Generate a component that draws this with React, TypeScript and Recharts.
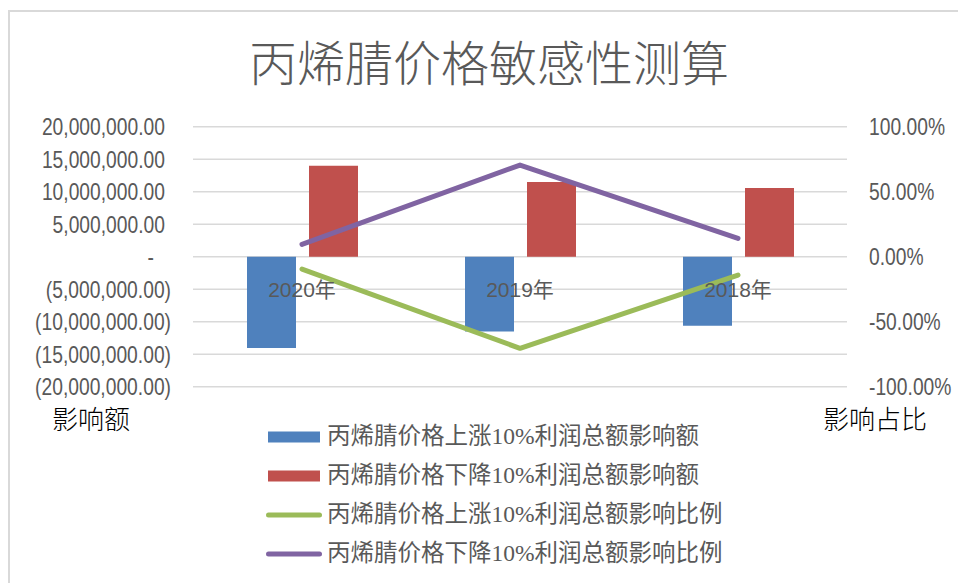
import { ComposedChart, Bar, Line, XAxis, YAxis, CartesianGrid } from "recharts";

const categories = ["2020年", "2019年", "2018年"];
const riseAmount = [-14050000, -11500000, -10620000];
const fallAmount = [14000000, 11500000, 10580000];
const riseRatio = [-0.095, -0.705, -0.141];
const fallRatio = [0.095, 0.705, 0.141];

const amountTicks = [-20000000, -15000000, -10000000, -5000000, 0, 5000000, 10000000, 15000000, 20000000];
const ratioTicks = [-1, -0.5, 0, 0.5, 1];

const seriesNames = [
  "丙烯腈价格上涨10%利润总额影响额",
  "丙烯腈价格下降10%利润总额影响额",
  "丙烯腈价格上涨10%利润总额影响比例",
  "丙烯腈价格下降10%利润总额影响比例",
];
const seriesColors = ["#4F81BD", "#C0504D", "#9BBB59", "#8064A2"];
const seriesKinds = ["bar", "bar", "line", "line"];

const data = categories.map((c, i) => ({
  name: c,
  rise: riseAmount[i],
  fall: fallAmount[i],
  riseRatio: riseRatio[i],
  fallRatio: fallRatio[i],
}));

const PLOT_H = 260;
const GRAY = "#595959";
const CJK = "'Liberation Serif', 'Noto Sans CJK SC', serif";

const fmt = (v: number) =>
  v.toLocaleString("en-US", { minimumFractionDigits: 2, maximumFractionDigits: 2 });

function LeftTick({ x, y, payload }: any) {
  const v = payload.value;
  let label = fmt(v);
  let dx = 0;
  if (v < 0) {
    label = `(${fmt(-v)})`;
    dx = 6;
  } else if (v === 0) {
    label = "-";
    dx = -11;
  }
  return (
    <text
      transform={`translate(${x + dx},${y}) scale(0.82,1)`}
      textAnchor="end"
      dy="0.355em"
      fontSize={23.5}
      fontFamily="'Liberation Sans', Arial, sans-serif"
      fill={GRAY}
    >
      {label}
    </text>
  );
}

function RightTick({ x, y, payload }: any) {
  return (
    <text
      transform={`translate(${x},${y}) scale(0.82,1)`}
      textAnchor="start"
      dy="0.355em"
      fontSize={23.5}
      fontFamily="'Liberation Sans', Arial, sans-serif"
      fill={GRAY}
    >
      {`${(payload.value * 100).toFixed(2)}%`}
    </text>
  );
}

// category labels sit just under the zero line, like Excel does
function CategoryTick({ x, y, payload }: any) {
  return (
    <text
      x={x}
      y={y - PLOT_H / 2 + 40}
      textAnchor="middle"
      fontSize={21}
      fontFamily="'Liberation Sans', 'Noto Sans CJK SC', sans-serif"
      fill={GRAY}
    >
      {payload.value}
    </text>
  );
}

function LegendBox() {
  return (
    <div style={{ position: "absolute", left: 264, top: 417, fontFamily: CJK }}>
      {seriesNames.map((n, i) => (
        <div key={n} style={{ display: "flex", alignItems: "center", height: 39 }}>
          <svg width={60} height={14} style={{ marginRight: 3 }}>
            {seriesKinds[i] === "bar" ? (
              <rect x={4} y={1.5} width={52} height={11} fill={seriesColors[i]} />
            ) : (
              <line x1={4.5} x2={55.5} y1={7} y2={7} stroke={seriesColors[i]} strokeWidth={5} strokeLinecap="round" />
            )}
          </svg>
          <span style={{ fontSize: 23.5, color: GRAY, lineHeight: "39px", whiteSpace: "nowrap" }}>{n}</span>
        </div>
      ))}
    </div>
  );
}

const axisTitle = {
  position: "absolute" as const,
  top: 404,
  fontSize: 26,
  lineHeight: "28px",
  fontWeight: 300,
  color: "#000",
  fontFamily: "'Noto Sans CJK SC', sans-serif",
};

export default function App() {
  return (
    <div style={{ position: "absolute", left: 0, top: 0, width: 958, height: 583, overflow: "hidden", background: "#fff" }}>
      <div
        style={{
          position: "absolute",
          left: 8,
          top: 10,
          width: 1000,
          height: 1000,
          borderTop: "2px solid #d9d9d9",
          borderLeft: "2px solid #d9d9d9",
        }}
      />
      <ComposedChart
        width={958}
        height={583}
        data={data}
        margin={{ top: 126.7, right: 0, bottom: 166.3, left: 0 }}
        barGap={13}
      >
        <CartesianGrid yAxisId="left" vertical={false} stroke="#d9d9d9" strokeWidth={1.5} />
        <XAxis
          dataKey="name"
          axisLine={false}
          tickLine={false}
          tickSize={0}
          tickMargin={0}
          height={30}
          tick={<CategoryTick />}
          interval={0}
        />
        <YAxis
          yAxisId="left"
          domain={[-20000000, 20000000]}
          ticks={amountTicks}
          width={193}
          axisLine={false}
          tickLine={false}
          tickSize={0}
          tickMargin={28}
          tick={<LeftTick />}
          interval={0}
        />
        <YAxis
          yAxisId="right"
          orientation="right"
          domain={[-1, 1]}
          ticks={ratioTicks}
          width={111}
          axisLine={false}
          tickLine={false}
          tickSize={0}
          tickMargin={22}
          tick={<RightTick />}
          interval={0}
        />
        <Bar yAxisId="left" dataKey="rise" name={seriesNames[0]} fill={seriesColors[0]} barSize={49} isAnimationActive={false} />
        <Bar yAxisId="left" dataKey="fall" name={seriesNames[1]} fill={seriesColors[1]} barSize={49} isAnimationActive={false} />
        <Line
          yAxisId="right"
          type="linear"
          dataKey="riseRatio"
          name={seriesNames[2]}
          stroke={seriesColors[2]}
          strokeWidth={5}
          strokeLinecap="round"
          strokeLinejoin="round"
          dot={false}
          activeDot={false}
          isAnimationActive={false}
        />
        <Line
          yAxisId="right"
          type="linear"
          dataKey="fallRatio"
          name={seriesNames[3]}
          stroke={seriesColors[3]}
          strokeWidth={5}
          strokeLinecap="round"
          strokeLinejoin="round"
          dot={false}
          activeDot={false}
          isAnimationActive={false}
        />
      </ComposedChart>
      <div
        style={{
          position: "absolute",
          left: 0,
          width: 978,
          top: 36,
          textAlign: "center",
          fontSize: 48,
          lineHeight: "48px",
          fontWeight: 300,
          color: GRAY,
          fontFamily: "'Noto Sans CJK SC', sans-serif",
        }}
      >
        丙烯腈价格敏感性测算
      </div>
      <div style={{ ...axisTitle, left: 52 }}>影响额</div>
      <div style={{ ...axisTitle, left: 823 }}>影响占比</div>
      <LegendBox />
    </div>
  );
}
